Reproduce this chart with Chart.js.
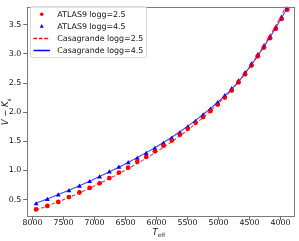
<!DOCTYPE html>
<html><head><meta charset="utf-8">
<script src="https://cdn.jsdelivr.net/npm/chart.js@4.4.0/dist/chart.umd.min.js"></script>
<style>html,body{margin:0;padding:0;background:#fff;overflow:hidden}canvas{display:block}</style>
</head><body>
<canvas id="c" width="299" height="241"></canvas>
<script>
// ---- data ----
const teffPoints = [7943, 7762, 7586, 7413, 7244, 7079, 6918, 6761, 6607, 6457, 6310, 6166, 6026, 5888, 5754, 5623,
                    5495, 5370, 5248, 5129, 5012, 4898, 4786, 4677, 4571, 4467, 4365, 4266, 4169, 4074, 3981, 3890];
const atlas9Logg25 = [0.330, 0.391, 0.458, 0.542, 0.621, 0.700, 0.778, 0.869, 0.963, 1.047, 1.148, 1.232, 1.328, 1.424, 1.513, 1.614,
                      1.715, 1.817, 1.917, 2.020, 2.130, 2.250, 2.370, 2.510, 2.650, 2.800, 2.960, 3.110, 3.270, 3.430, 3.600, 3.760];
const atlas9Logg45 = [0.424, 0.498, 0.576, 0.650, 0.727, 0.806, 0.886, 0.970, 1.054, 1.130, 1.205, 1.290, 1.374, 1.463, 1.552, 1.643,
                      1.744, 1.840, 1.950, 2.050, 2.160, 2.280, 2.400, 2.535, 2.675, 2.827, 2.983, 3.135, 3.293, 3.450, 3.618, 3.786];
const teffLine = [7943, 7762, 7586, 7413, 7244, 7079, 6918, 6761, 6607, 6457, 6310, 6166, 6026, 5888, 5754, 5623,
                  5495, 5370, 5248, 5129, 5012, 4898, 4786, 4677, 4571, 4467, 4365, 4266, 4169, 4074, 3981, 3890, 3802];
const casagrandeLogg25 = [0.320, 0.390, 0.460, 0.535, 0.615, 0.695, 0.775, 0.860, 0.945, 1.030, 1.120, 1.210, 1.300, 1.395, 1.490, 1.590,
                          1.695, 1.800, 1.910, 2.020, 2.140, 2.260, 2.385, 2.520, 2.665, 2.820, 2.980, 3.145, 3.315, 3.490, 3.670, 3.860, 4.060];
const casagrandeLogg45 = [0.440, 0.510, 0.585, 0.660, 0.735, 0.815, 0.895, 0.975, 1.055, 1.135, 1.220, 1.305, 1.390, 1.480, 1.570, 1.665,
                          1.760, 1.860, 1.960, 2.065, 2.170, 2.280, 2.395, 2.525, 2.665, 2.815, 2.970, 3.125, 3.285, 3.450, 3.620, 3.790, 3.970];
const xTicks = [8000, 7500, 7000, 6500, 6000, 5500, 5000, 4500, 4000];
const yTicks = [0.5, 1.0, 1.5, 2.0, 2.5, 3.0, 3.5];
const seriesNames = ['ATLAS9 logg=2.5', 'ATLAS9 logg=4.5', 'Casagrande logg=2.5', 'Casagrande logg=4.5'];

const FONT = 'DejaVu Sans';
const FS = 7.9;
const RED = '#ff0000', BLUE = '#0000ff';

const pairs = (xs, ys) => xs.map((x, i) => ({x: x, y: ys[i]}));

const framePlugin = {
  id: 'frameAndLegend',
  afterDraw(chart) {
    const ctx = chart.ctx, a = chart.chartArea;
    ctx.save();
    // frame (spines)
    ctx.strokeStyle = '#7a7a7a';
    ctx.lineWidth = 1;
    ctx.strokeRect(Math.round(a.left) + 0.5, Math.round(a.top) + 0.5,
                   Math.round(a.right - a.left) - 1, Math.round(a.bottom - a.top) - 1);
    // legend
    const bx = 30.5, by = 6.5, bw = 116, bh = 51, r = 2;
    ctx.beginPath();
    ctx.moveTo(bx + r, by); ctx.lineTo(bx + bw - r, by); ctx.quadraticCurveTo(bx + bw, by, bx + bw, by + r);
    ctx.lineTo(bx + bw, by + bh - r); ctx.quadraticCurveTo(bx + bw, by + bh, bx + bw - r, by + bh);
    ctx.lineTo(bx + r, by + bh); ctx.quadraticCurveTo(bx, by + bh, bx, by + bh - r);
    ctx.lineTo(bx, by + r); ctx.quadraticCurveTo(bx, by, bx + r, by);
    ctx.closePath();
    ctx.fillStyle = 'rgba(255,255,255,0.8)'; ctx.fill();
    ctx.strokeStyle = '#d6d6d6'; ctx.lineWidth = 1; ctx.stroke();
    const rowY = [14.2, 26.3, 38.4, 50.5];
    const hx0 = 33.5, hx1 = 50, hm = 41.7, tx = 57.3;
    // row 0: red circle
    ctx.fillStyle = RED; ctx.beginPath(); ctx.arc(hm, rowY[0], 1.8, 0, Math.PI * 2); ctx.fill();
    // row 1: blue triangle
    ctx.fillStyle = BLUE; ctx.beginPath();
    ctx.moveTo(hm, rowY[1] - 2.2); ctx.lineTo(hm + 2, rowY[1] + 1.5); ctx.lineTo(hm - 2, rowY[1] + 1.5); ctx.closePath(); ctx.fill();
    // row 2: red dashed
    ctx.strokeStyle = RED; ctx.lineWidth = 1.5; ctx.setLineDash([3.6, 1.8]);
    ctx.beginPath(); ctx.moveTo(hx0, rowY[2]); ctx.lineTo(hx1, rowY[2]); ctx.stroke();
    // row 3: blue solid
    ctx.setLineDash([]); ctx.strokeStyle = BLUE;
    ctx.beginPath(); ctx.moveTo(hx0, rowY[3]); ctx.lineTo(hx1, rowY[3]); ctx.stroke();
    ctx.fillStyle = '#111'; ctx.font = FS + 'px "' + FONT + '"'; ctx.textBaseline = 'middle'; ctx.textAlign = 'left';
    seriesNames.forEach((s, i) => ctx.fillText(s, tx, rowY[i] + 0.3));
    // x title: T_eff
    const cx = (a.left + a.right) / 2 - 2, ty = 234.5;
    ctx.textBaseline = 'alphabetic';
    ctx.font = 'italic ' + (FS + 0.6) + 'px "' + FONT + '"';
    const wT = ctx.measureText('T').width;
    ctx.font = (FS - 2.2) + 'px "' + FONT + '"';
    const wE = ctx.measureText('eff').width;
    let x0 = cx - (wT + wE) / 2;
    ctx.font = 'italic ' + (FS + 0.6) + 'px "' + FONT + '"';
    ctx.fillText('T', x0, ty);
    ctx.font = (FS - 2.2) + 'px "' + FONT + '"';
    ctx.fillText('eff', x0 + wT, ty + 2.2);
    // y title: V - K_s
    ctx.translate(8.3, (a.top + a.bottom) / 2);
    ctx.rotate(-Math.PI / 2);
    const parts = [['V', 'italic ', FS + 0.6, 0], [' \u2212 ', '', FS + 0.6, 0], ['K', 'italic ', FS + 0.6, 0], ['s', 'italic ', FS - 2.2, 2.2]];
    let tot = 0;
    parts.forEach(p => { ctx.font = p[1] + p[2] + 'px "' + FONT + '"'; p.push(ctx.measureText(p[0]).width); tot += p[4]; });
    let px = -tot / 2;
    parts.forEach(p => { ctx.font = p[1] + p[2] + 'px "' + FONT + '"'; ctx.fillText(p[0], px, p[3]); px += p[4]; });
    ctx.restore();
  }
};

new Chart(document.getElementById('c'), {
  type: 'scatter',
  data: {
    datasets: [
      {label: seriesNames[2], data: pairs(teffLine, casagrandeLogg25), showLine: true, borderColor: 'rgba(255,0,0,0.8)',
       borderWidth: 1.1, borderDash: [3.5, 2], pointRadius: 0, fill: false, clip: 0, order: 0},
      {label: seriesNames[3], data: pairs(teffLine, casagrandeLogg45), showLine: true, borderColor: 'rgba(0,0,255,0.75)',
       borderWidth: 1.1, pointRadius: 0, fill: false, clip: 0, order: 1},
      {label: seriesNames[0], data: pairs(teffPoints, atlas9Logg25), pointStyle: 'circle', pointRadius: 2.4,
       backgroundColor: RED, borderWidth: 0, order: 2},
      {label: seriesNames[1], data: pairs(teffPoints, atlas9Logg45), pointStyle: 'triangle', pointRadius: 2.8,
       backgroundColor: BLUE, borderWidth: 0, order: 3}
    ]
  },
  options: {
    responsive: false,
    animation: false,
    events: [],
    layout: {padding: {left: 0, right: 3, top: 2.7, bottom: 0}},
    plugins: {legend: {display: false}, tooltip: {enabled: false}, title: {display: false}},
    scales: {
      x: {
        type: 'linear', reverse: true, min: 3765, max: 8095,
        afterBuildTicks: s => { s.ticks = xTicks.map(v => ({value: v})); },
        afterFit: s => { s.height = 24; },
        border: {display: false},
        grid: {display: true, drawOnChartArea: false, drawTicks: true, tickLength: 3.5, color: '#444', lineWidth: 0.8},
        ticks: {color: '#111', font: {family: FONT, size: FS}, padding: -2, maxRotation: 0, autoSkip: false,
                callback: v => String(v)},
        title: {display: false}
      },
      y: {
        type: 'linear', min: 0.2, max: 3.81,
        afterBuildTicks: s => { s.ticks = yTicks.map(v => ({value: v})); },
        afterFit: s => { s.width = 26.7; },
        border: {display: false},
        grid: {display: true, drawOnChartArea: false, drawTicks: true, tickLength: 3.5, color: '#444', lineWidth: 0.8},
        ticks: {color: '#111', font: {family: FONT, size: FS}, padding: 2, autoSkip: false,
                callback: v => v.toFixed(1)},
        title: {display: false}
      }
    }
  },
  plugins: [framePlugin]
});
</script>
</body></html>
